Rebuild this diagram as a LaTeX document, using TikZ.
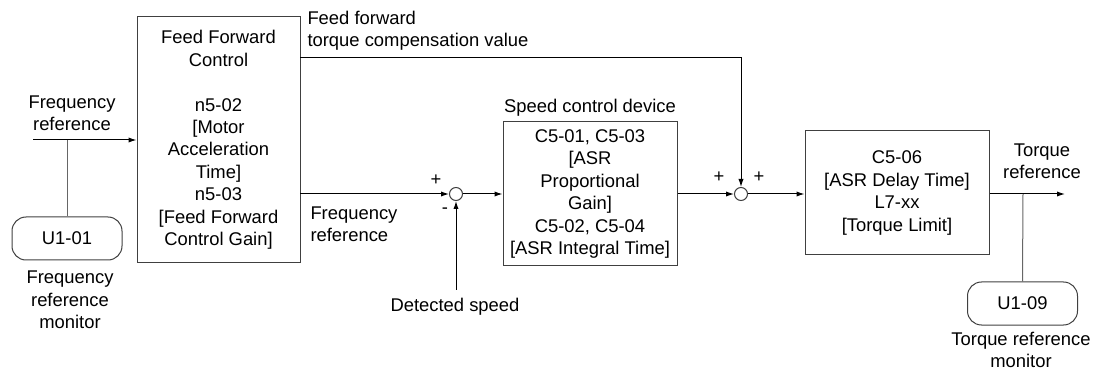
\documentclass[tikz,border=0pt]{standalone}
\usepackage{fontspec}
\setmainfont{Liberation Sans}
\usetikzlibrary{arrows.meta,positioning,calc}

\begin{document}
\begin{tikzpicture}[x=0.5pt, y=-0.5pt, >={Latex[length=4pt,width=2.6pt]},
  font=\fontsize{9.2}{11.2}\selectfont, line width=0.5pt,
  blk/.style={draw=black!75, rectangle, align=center, inner sep=1pt},
  sumpt/.style={draw=black!75, circle, minimum size=6.5pt, inner sep=0pt},
  mon/.style={draw=black!75, rectangle, rounded corners=7pt, minimum width=55pt, minimum height=21.5pt},
  lbl/.style={align=center, inner sep=0pt},
  tap/.style={draw=black!60}]
  \useasboundingbox (0,0) rectangle (1094,369);
  % blocks
  \node[blk, minimum width=81.5pt, minimum height=123pt] (ff) at (218.5,140)
    {Feed Forward\\ Control\\[11.2pt] n5-02\\ {[}Motor\\ Acceleration\\ Time]\\ n5-03\\ {[}Feed Forward\\ Control Gain]};
  \node[blk, minimum width=87pt, minimum height=72pt] (asr) at (590,194)
    {C5-01, C5-03\\ {[}ASR\\ Proportional\\ Gain]\\ C5-02, C5-04\\ {[}ASR Integral Time]};
  \node[blk, minimum width=92pt, minimum height=62pt] (lim) at (897,193)
    {C5-06\\ {[}ASR Delay Time]\\ L7-xx\\ {[}Torque Limit]};
  \node[sumpt] (s1) at (456,194) {};
  \node[sumpt] (s2) at (741,194) {};
  \node[mon] (u101) at (67,238.5) {U1-01};
  \node[mon] (u109) at (1022.5,303.5) {U1-09};
  % labels
  \node[lbl] (frin) at (72,113) {Frequency\\ reference};
  \node[lbl] (frmon) at (70,300) {Frequency\\ reference\\ monitor};
  \node[lbl, anchor=west, align=left] (ffv) at (307,31) {Feed forward\\ torque compensation value};
  \node[lbl, anchor=west, align=left] (frout) at (310,224) {Frequency\\ reference};
  \node[lbl] (sptitle) at (590,108) {Speed control device};
  \node[lbl] (detl) at (455,307) {Detected speed};
  \node[lbl] (trq) at (1042,161) {Torque\\ reference};
  \node[lbl] (trqmon) at (1021,350) {Torque reference\\ monitor};
  \node[lbl] (p1) at (436,180) {+};
  \node[lbl] (m1) at (445,211) {-};
  \node[lbl] (p2) at (719,177) {+};
  \node[lbl] (p3) at (759,177) {+};
  % connectors
  \coordinate (in) at (33,140);
  \coordinate (tp1) at (67,140);
  \coordinate (ffo) at (300,58);
  \coordinate (ffr) at (300,194);
  \coordinate (det) at (456,290);
  \coordinate (out) at (1065,194);
  \coordinate (tp2) at (1023,194);
  \draw[->] (in) -- (ff.west |- in);
  \draw[tap] (tp1) -- (u101.north);
  \draw[->] (ffo) -| (s2.north);
  \draw[->] (ffr) -- (s1.west);
  \draw[->] (det) -- (s1.south);
  \draw[->] (s1) -- (asr);
  \draw[->] (asr) -- (s2);
  \draw[->] (s2) -- (lim.west |- s2);
  \draw[->] (lim.east |- out) -- (out);
  \draw[tap] (tp2) -- (u109.north);
\end{tikzpicture}
\end{document}
